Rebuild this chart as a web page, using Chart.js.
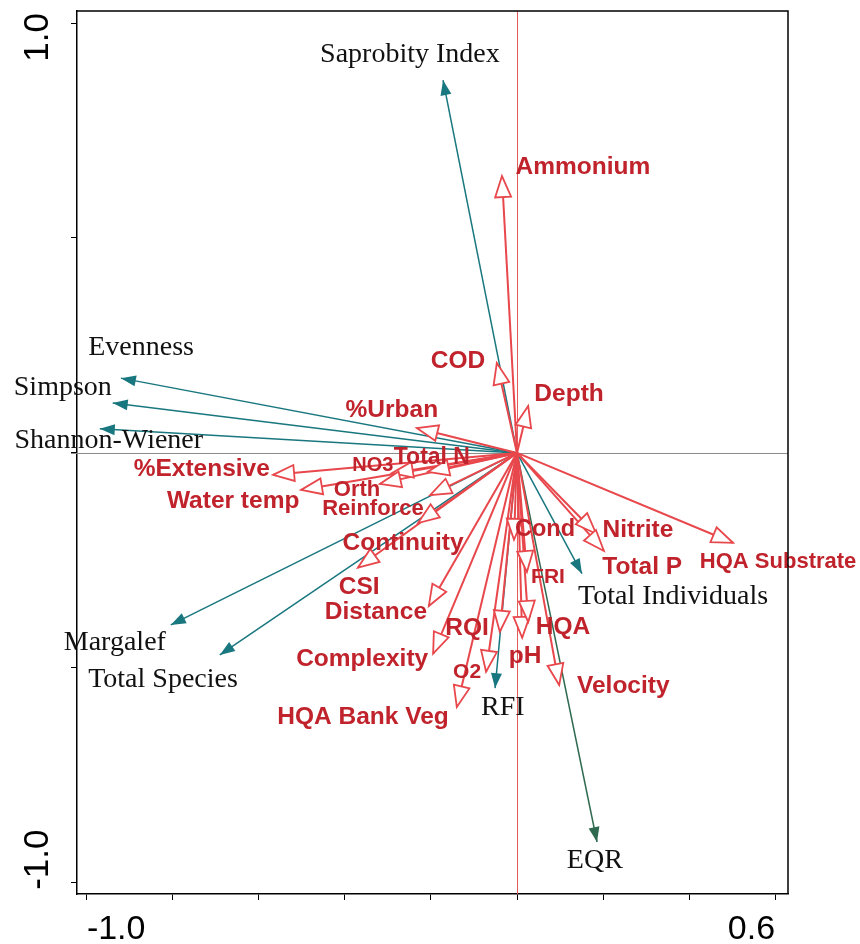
<!DOCTYPE html>
<html>
<head>
<meta charset="utf-8">
<script src="https://cdn.jsdelivr.net/npm/chart.js@4.4.1/dist/chart.umd.min.js"></script>
<style>
    html, body { margin: 0; padding: 0; background: #fff; }
    canvas { display: block; }
</style>
</head>
<body>
<canvas id="biplot" width="860" height="944"></canvas>
<script>
// ================= DATA =================
// response arrows (teal, filled heads)
const speciesNames = ["Saprobity Index", "Evenness", "Simpson", "Shannon-Wiener", "Margalef",
    "Total Species", "RFI", "Total Individuals", "EQR"];
const speciesX = [-0.172, -0.921, -0.940, -0.970, -0.805, -0.691, -0.051, 0.151, 0.186];
const speciesY = [0.867, 0.174, 0.116, 0.056, -0.400, -0.470, -0.547, -0.281, -0.905];

// explanatory arrows (red, open heads)
const envNames = ["Ammonium", "COD", "Depth", "%Urban", "Total N", "NO3", "Orth", "Reinforce",
    "%Extensive", "Water temp", "Continuity", "CSI", "Distance", "Complexity", "HQA Bank Veg",
    "O2", "RQI", "pH", "HQA", "FRI", "Cond", "Nitrite", "Total P", "HQA Substrate", "Velocity"];
const envX = [-0.035, -0.047, 0.026, -0.233, -0.207, -0.291, -0.319, -0.202,
    -0.567, -0.502, -0.230, -0.370, -0.205, -0.195, -0.140,
    -0.072, -0.040, 0.012, 0.026, 0.023, -0.007, 0.184, 0.202, 0.502, 0.098];
const envY = [0.644, 0.209, 0.109, 0.058, -0.044, -0.047, -0.072, -0.098,
    -0.051, -0.086, -0.163, -0.267, -0.356, -0.467, -0.591,
    -0.509, -0.416, -0.430, -0.393, -0.277, -0.202, -0.188, -0.228, -0.209, -0.540];

// ticks
const xTicks = [-1.0, -0.8, -0.6, -0.4, -0.2, 0, 0.2, 0.4, 0.6];
const yTicks = [-1.0, -0.5, 0, 0.5, 1.0];
const xTickText = { "-1": "-1.0", "0.6": "0.6" };
const yTickText = { "-1": "-1.0", "1": "1.0" };

// ================= LABEL PLACEMENT (axis units, text centre) =================
const labelAt = {
    "Saprobity Index": [-0.249, 0.926], "Evenness": [-0.874, 0.244], "Simpson": [-1.056, 0.153],
    "Shannon-Wiener": [-0.949, 0.028], "Margalef": [-0.935, -0.442], "Total Species": [-0.823, -0.528],
    "RFI": [-0.033, -0.593], "Total Individuals": [0.363, -0.335], "EQR": [0.181, -0.949],
    "Ammonium": [0.153, 0.665], "COD": [-0.137, 0.214], "Depth": [0.121, 0.137],
    "%Urban": [-0.291, 0.100], "Total N": [-0.198, -0.012], "NO3": [-0.335, -0.030],
    "Orth": [-0.372, -0.086], "Reinforce": [-0.335, -0.130], "%Extensive": [-0.733, -0.037],
    "Water temp": [-0.660, -0.112], "Continuity": [-0.265, -0.209], "CSI": [-0.367, -0.312],
    "Distance": [-0.328, -0.370], "Complexity": [-0.360, -0.481], "HQA Bank Veg": [-0.358, -0.614],
    "O2": [-0.116, -0.509], "RQI": [-0.116, -0.407], "pH": [0.019, -0.474], "HQA": [0.107, -0.405],
    "FRI": [0.072, -0.288], "Cond": [0.065, -0.179], "Nitrite": [0.281, -0.181],
    "Total P": [0.291, -0.265], "HQA Substrate": [0.607, -0.253], "Velocity": [0.247, -0.542]
};
// a few env names are set smaller
const envFontSize = { "NO3": 20, "Orth": 22, "Reinforce": 22, "FRI": 21, "O2": 21,
    "HQA Substrate": 22, "Total N": 23, "Cond": 23.5 };

// ================= STYLE =================
const RED_LINE = "#e8474c";
const RED_TEXT = "#c0232b";
const TEAL = "#19777f";
const EQR_GREEN = "#2f6a50";
const SERIF = '"Times New Roman", "Liberation Serif", serif';
const SANS = 'Arial, "Liberation Sans", sans-serif';

// ================= DATASETS =================
let datasets = [];
envNames.forEach((name, i) => {
    datasets.push({
        label: name,
        kind: "env",
        data: [{ x: 0, y: 0 }, { x: envX[i], y: envY[i] }],
        borderColor: RED_LINE,
        borderWidth: 2,
        showLine: true,
        pointRadius: 0
    });
});
speciesNames.forEach((name, i) => {
    datasets.push({
        label: name,
        kind: "species",
        data: [{ x: 0, y: 0 }, { x: speciesX[i], y: speciesY[i] }],
        borderColor: name === "EQR" ? EQR_GREEN : TEAL,
        borderWidth: 1.5,
        showLine: true,
        pointRadius: 0
    });
});

// ================= PLUGINS =================
// zero lines: red vertical, grey horizontal
const zeroLines = {
    id: "zeroLines",
    beforeDatasetsDraw(chart) {
        const ctx = chart.ctx;
        const area = chart.chartArea;
        const px = Math.round(chart.scales.x.getPixelForValue(0)) + 0.5;
        const py = Math.round(chart.scales.y.getPixelForValue(0)) + 0.5;
        ctx.save();
        ctx.lineWidth = 1;
        ctx.strokeStyle = "#e25c5c";
        ctx.beginPath();
        ctx.moveTo(px, area.top);
        ctx.lineTo(px, area.bottom);
        ctx.stroke();
        ctx.strokeStyle = "#8c8c8c";
        ctx.beginPath();
        ctx.moveTo(area.left - 6, py);
        ctx.lineTo(area.right, py);
        ctx.stroke();
        ctx.restore();
    }
};

const arrowHeads = {
    id: "arrowHeads",
    afterDatasetsDraw(chart) {
        const ctx = chart.ctx;
        chart.data.datasets.forEach((ds, i) => {
            const pts = chart.getDatasetMeta(i).data;
            const a = pts[0], b = pts[1];
            const ang = Math.atan2(b.y - a.y, b.x - a.x);
            const env = ds.kind === "env";
            const len = env ? 21 : 15;
            const half = env ? 8 : 5.5;
            ctx.save();
            ctx.translate(b.x, b.y);
            ctx.rotate(ang);
            ctx.beginPath();
            ctx.moveTo(0, 0);
            ctx.lineTo(-len, -half);
            ctx.lineTo(-len, half);
            ctx.closePath();
            if (env) {
                ctx.fillStyle = "#fff";
                ctx.fill();
                ctx.lineWidth = 1.8;
                ctx.strokeStyle = ds.borderColor;
                ctx.stroke();
            } else {
                ctx.fillStyle = ds.borderColor;
                ctx.fill();
            }
            ctx.restore();
        });
    }
};

const arrowLabels = {
    id: "arrowLabels",
    afterDatasetsDraw(chart) {
        const ctx = chart.ctx;
        const xs = chart.scales.x, ys = chart.scales.y;
        ctx.save();
        ctx.textAlign = "center";
        ctx.textBaseline = "middle";
        chart.data.datasets.forEach(ds => {
            const pos = labelAt[ds.label];
            if (!pos) return;
            if (ds.kind === "env") {
                ctx.font = "bold " + (envFontSize[ds.label] || 24.5) + "px " + SANS;
                ctx.fillStyle = RED_TEXT;
            } else {
                ctx.font = "28px " + SERIF;
                ctx.fillStyle = "#111";
            }
            ctx.fillText(ds.label, xs.getPixelForValue(pos[0]), ys.getPixelForValue(pos[1]));
        });
        ctx.restore();
    }
};

// frame on top/right and the rotated y end labels
const frameAndYLabels = {
    id: "frameAndYLabels",
    afterDraw(chart) {
        const ctx = chart.ctx;
        const area = chart.chartArea;
        const ys = chart.scales.y;
        ctx.save();
        ctx.strokeStyle = "#000";
        ctx.lineWidth = 1.5;
        ctx.beginPath();
        ctx.moveTo(area.left, area.top);
        ctx.lineTo(area.right, area.top);
        ctx.lineTo(area.right, area.bottom);
        ctx.stroke();

        ctx.fillStyle = "#000";
        ctx.font = "35px " + SANS;
        ctx.textBaseline = "middle";
        yTicks.forEach(v => {
            const txt = yTickText[String(v)];
            if (!txt) return;
            const py = ys.getPixelForValue(v);
            ctx.save();
            if (v > 0) {
                ctx.translate(38, py - 10);
                ctx.textAlign = "right";
            } else {
                ctx.translate(38, py + 7);
                ctx.textAlign = "left";
            }
            ctx.rotate(-Math.PI / 2);
            ctx.fillText(txt, 0, 0);
            ctx.restore();
        });
        ctx.restore();
    }
};

// ================= CHART =================
new Chart(document.getElementById("biplot"), {
    type: "scatter",
    data: { datasets: datasets },
    options: {
        responsive: false,
        animation: false,
        layout: { padding: { top: 11, right: 72, bottom: 0, left: 0 } },
        plugins: {
            legend: { display: false },
            tooltip: { enabled: false }
        },
        scales: {
            x: {
                type: "linear",
                min: -1.023,
                max: 0.630,
                afterBuildTicks: scale => { scale.ticks = xTicks.map(v => ({ value: v })); },
                afterFit: scale => { scale.height = 50; },
                border: { display: true, color: "#000", width: 1.5 },
                grid: {
                    drawOnChartArea: false,
                    color: "#000",
                    tickLength: 6,
                    lineWidth: 1
                },
                ticks: {
                    autoSkip: false,
                    maxRotation: 0,
                    align: "inner",
                    padding: 9,
                    color: "#000",
                    font: { family: SANS, size: 34 },
                    callback: v => xTickText[String(v)] || ""
                }
            },
            y: {
                type: "linear",
                min: -1.026,
                max: 1.028,
                afterBuildTicks: scale => { scale.ticks = yTicks.map(v => ({ value: v })); },
                afterFit: scale => { scale.width = 77; },
                border: { display: true, color: "#000", width: 1.5 },
                grid: {
                    drawOnChartArea: false,
                    color: "#000",
                    tickLength: 6,
                    lineWidth: 1
                },
                ticks: { display: false }
            }
        }
    },
    plugins: [zeroLines, arrowHeads, arrowLabels, frameAndYLabels]
});
</script>
</body>
</html>
